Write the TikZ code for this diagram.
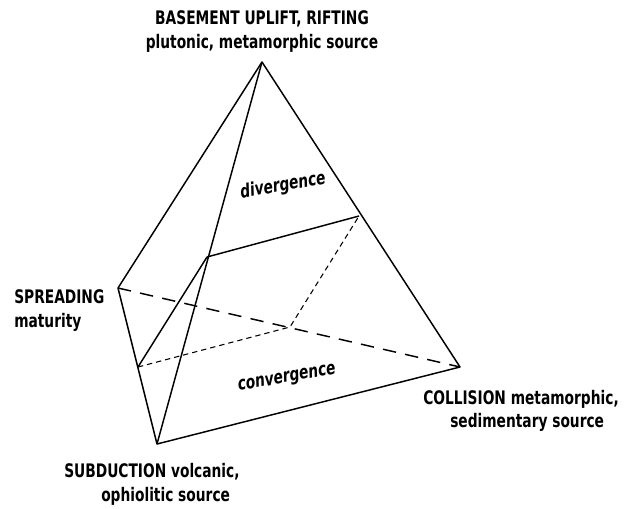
\documentclass[tikz,border=0pt]{standalone}
\usepackage{fontspec}
\setmainfont{DejaVu Sans Condensed}[FakeStretch=0.82]
\begin{document}
\begin{tikzpicture}[x=0.75pt,y=-0.75pt,
  edge/.style={line width=1.1pt,line join=round},
  hid/.style={line width=1.1pt,dash pattern=on 10pt off 7pt},
  thin/.style={line width=0.8pt,dash pattern=on 4pt off 3pt},
  lbl/.style={font=\fontsize{14}{17}\selectfont\bfseries,inner sep=0pt,align=left},
  face/.style={font=\fontsize{14}{17}\selectfont\bfseries\itshape,inner sep=0pt}]
\useasboundingbox (0,0) rectangle (632,508);
\coordinate (A) at (262,62);
\coordinate (S) at (118,288);
\coordinate (B) at (157,444);
\coordinate (C) at (460,367);
\coordinate (P1) at (359,216);
\coordinate (P2) at (207,257);
\coordinate (Q1) at (138,367);
\coordinate (R) at (290,327);
\draw[edge] (A) -- (S) -- (B) -- (C) -- cycle;
\draw[edge] (A) -- (B);
\draw[edge] (P2) -- (P1);
\draw[edge] (P2) -- (Q1);
\draw[hid] (S) -- (C);
\draw[thin] (Q1) -- (R) -- (P1);
\node[lbl,anchor=base] (t1) at (262,24) {BASEMENT UPLIFT, RIFTING};
\node[lbl,anchor=base] (t2) at (262,48) {plutonic, metamorphic source};
\node[lbl,anchor=base west] (s1) at (14,303) {SPREADING};
\node[lbl,anchor=base west] (s2) at (14,327) {maturity};
\node[lbl,anchor=base west] (c1) at (423,404) {COLLISION metamorphic,};
\node[lbl,anchor=base west] (c2) at (450,427) {sedimentary source};
\node[lbl,anchor=base west] (b1) at (64,477) {SUBDUCTION volcanic,};
\node[lbl,anchor=base west] (b2) at (101,501) {ophiolitic source};
\node[face,rotate=10] (dv) at (283,186) {divergence};
\node[face,rotate=10] (cv) at (287,379) {convergence};
\end{tikzpicture}
\end{document}
